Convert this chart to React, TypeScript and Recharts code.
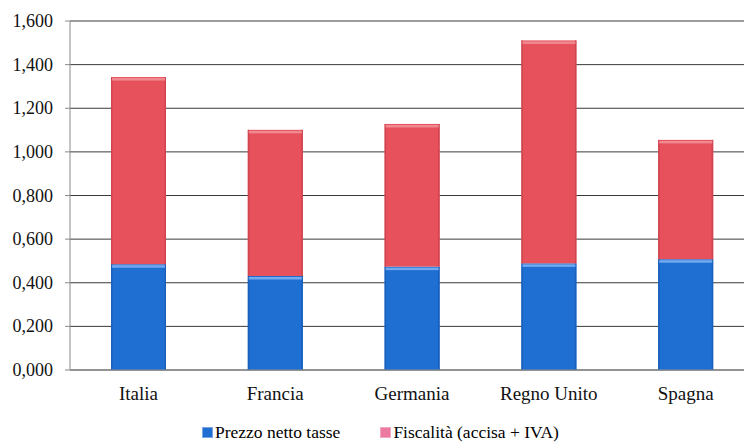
import React from "react";
import { BarChart, Bar, XAxis, YAxis, CartesianGrid, Legend } from "recharts";

const categories = ["Italia", "Francia", "Germania", "Regno Unito", "Spagna"];
const prezzoNetto = [0.485, 0.431, 0.474, 0.489, 0.508];
const fiscalita = [0.858, 0.67, 0.654, 1.022, 0.547];
const yTicks = [0, 0.2, 0.4, 0.6, 0.8, 1.0, 1.2, 1.4, 1.6];
const seriesNames = ["Prezzo netto tasse", "Fiscalità (accisa + IVA)"];

const data = categories.map((c, i) => ({
  name: c,
  prezzo: prezzoNetto[i],
  fisc: fiscalita[i],
}));

const BLUE = "#1f6fd3";
const RED = "#e6515c";
const FONT = "Liberation Serif";

const LegendContent = () => (
  <div
    style={{
      display: "flex",
      justifyContent: "flex-start",
      paddingLeft: 202,
      fontFamily: FONT,
      fontSize: 17.5,
      color: "#000",
      lineHeight: "20px",
    }}
  >
    <span style={{ display: "flex", alignItems: "center", marginRight: 40 }}>
      <span style={{ width: 9, height: 9, background: BLUE, border: "1px solid #7aa6e8", marginRight: 2 }} />
      {seriesNames[0]}
    </span>
    <span style={{ display: "flex", alignItems: "center" }}>
      <span style={{ width: 9, height: 9, background: "#ec7aa0", border: "1px solid #f0a9c0", marginRight: 2 }} />
      {seriesNames[1]}
    </span>
  </div>
);

const XTick = (props: any) => {
  const { x, y, payload } = props;
  return (
    <text x={x} y={y + 24} textAnchor="middle" fontFamily={FONT} fontSize={19} fill="#111">
      {payload.value}
    </text>
  );
};

const YTick = (props: any) => {
  const { x, y, payload } = props;
  return (
    <text x={x} y={y + 6} textAnchor="end" fontFamily={FONT} fontSize={18} fill="#111">
      {Number(payload.value).toFixed(3).replace(".", ",")}
    </text>
  );
};

const makeShape = (fill: string, light: string, edge: string) => (props: any) => {
  const { x, y, width, height } = props;
  if (!height || height <= 0) return <g />;
  return (
    <g>
      <rect x={x} y={y} width={width} height={height} fill={fill} />
      <rect x={x} y={y} width={1.5} height={height} fill={edge} />
      <rect x={x + width - 1.5} y={y} width={1.5} height={height} fill={edge} />
      <rect x={x + 1} y={y + 1} width={width - 2} height={2.5} fill={light} />
    </g>
  );
};

const BlueShape = makeShape(BLUE, "#74a9ef", "#1a5fb8");
const RedShape = makeShape(RED, "#f08a90", "#cf4450");

export default function App() {
  return (
    <div
      style={{
        position: "absolute",
        left: 0,
        top: 0,
        width: 744,
        height: 442,
        overflow: "hidden",
        background: "#fff",
        fontFamily: FONT,
      }}
    >
      <BarChart
        width={754}
        height={442}
        data={data}
        margin={{ top: 21, right: 0, left: 0, bottom: 0 }}
        barSize={55}
      >
        <CartesianGrid vertical={false} stroke="#3a3a3a" strokeWidth={1} />
        <XAxis
          dataKey="name"
          height={52}
          tickLine={false}
          axisLine={{ stroke: "#8a8a8a" }}
          tick={<XTick />}
          tickMargin={0}
        />
        <XAxis
          xAxisId="bounds"
          type="number"
          domain={[0, 5]}
          ticks={[0, 1, 2, 3, 4, 5]}
          axisLine={false}
          tickLine={{ stroke: "#8a8a8a" }}
          tickSize={5}
          tick={false}
          height={0}
        />
        <YAxis
          width={70}
          domain={[0, 1.6]}
          ticks={yTicks}
          interval={0}
          axisLine={{ stroke: "#8a8a8a" }}
          tickLine={{ stroke: "#8a8a8a" }}
          tickSize={5}
          tick={<YTick />}
          tickMargin={12}
        />
        <Legend verticalAlign="bottom" align="left" content={<LegendContent />} />
        <Bar dataKey="prezzo" name={seriesNames[0]} stackId="a" fill={BLUE} shape={BlueShape} isAnimationActive={false} />
        <Bar dataKey="fisc" name={seriesNames[1]} stackId="a" fill={RED} shape={RedShape} isAnimationActive={false} />
      </BarChart>
    </div>
  );
}
